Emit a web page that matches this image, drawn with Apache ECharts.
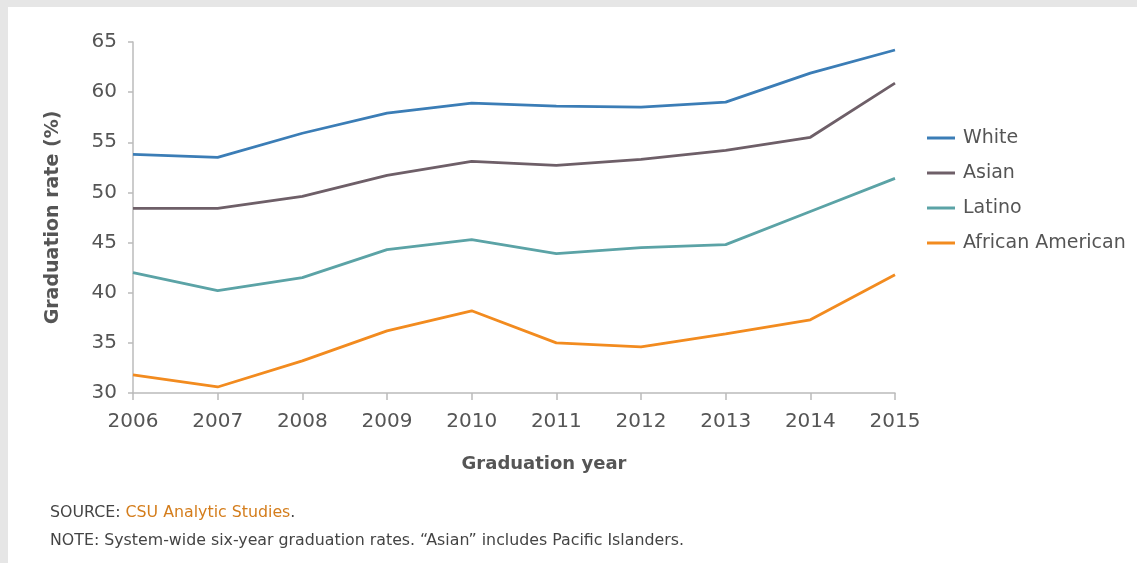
<html>
<head>
<meta charset="utf-8">
<title>Graduation rate by ethnicity</title>
<script src="https://cdn.jsdelivr.net/npm/echarts@6/dist/echarts.min.js"></script>
<style>
  body{margin:0;background:#e6e6e6;}
  #main{position:absolute;left:8px;top:7px;width:1129px;height:556px;background:#fff;}
</style>
</head>
<body>
<div id="main"></div>
<script>
// data
var years = ['2006','2007','2008','2009','2010','2011','2012','2013','2014','2015'];
var white = [53.8, 53.5, 55.9, 57.9, 58.9, 58.6, 58.5, 59.0, 61.9, 64.2];
var asian = [48.4, 48.4, 49.6, 51.7, 53.1, 52.7, 53.3, 54.2, 55.5, 60.9];
var latino = [42.0, 40.2, 41.5, 44.3, 45.3, 43.9, 44.5, 44.8, 48.1, 51.4];
var africanAmerican = [31.8, 30.6, 33.2, 36.2, 38.2, 35.0, 34.6, 35.9, 37.3, 41.8];

var font = '"DejaVu Sans", sans-serif';
var myChart = echarts.init(document.getElementById('main'));

function line(name, data, color){
  return {
    name: name, type: 'line', data: data, symbol: 'none',
    lineStyle: {color: color, width: 2.8}, itemStyle: {color: color}
  };
}

var option = {
  animation: false,
  textStyle: {fontFamily: font},
  grid: {left: 125, right: 242, top: 35, bottom: 170},
  legend: {
    orient: 'vertical', left: 914, top: 116, itemGap: 15,
    itemWidth: 28, itemHeight: 3, icon: 'rect',
    textStyle: {fontSize: 19, lineHeight: 20, color: '#555', fontFamily: font, padding: [0, 0, 0, 3]},
    data: ['White', 'Asian', 'Latino', 'African American']
  },
  xAxis: {
    type: 'category', data: years, boundaryGap: false,
    name: 'Graduation year', nameLocation: 'middle', nameGap: 62,
    nameTextStyle: {fontSize: 18, fontWeight: 'bold', color: '#555', padding: [0, 0, 0, 60]},
    axisLine: {lineStyle: {color: '#bbb', width: 1.5}},
    axisTick: {length: 7, lineStyle: {color: '#bbb', width: 1.5}},
    axisLabel: {fontSize: 20, color: '#555', margin: 19}
  },
  yAxis: {
    type: 'value', min: 30, max: 65, interval: 5,
    name: 'Graduation rate (%)', nameLocation: 'middle', nameGap: 70,
    nameTextStyle: {fontSize: 19, fontWeight: 'bold', color: '#555'},
    axisLine: {show: true, lineStyle: {color: '#bbb', width: 1.5}},
    axisTick: {show: true, length: 5, lineStyle: {color: '#bbb', width: 1.5}},
    axisLabel: {fontSize: 20, color: '#555', margin: 16},
    splitLine: {show: false}
  },
  title: {
    left: 37, top: 487,
    text: '{a|SOURCE: }{b|CSU Analytic Studies}{a|.}\n{a|NOTE: System-wide six-year graduation rates. \u201cAsian\u201d includes Pacific Islanders.}',
    textStyle: {
      rich: {
        a: {fontSize: 15.8, fontWeight: 'normal', color: '#444', fontFamily: font, lineHeight: 28},
        b: {fontSize: 15.8, fontWeight: 'normal', color: '#d47d1c', fontFamily: font, lineHeight: 28}
      }
    }
  },
  series: [
    line('White', white, '#3b7db6'),
    line('Asian', asian, '#6e5f68'),
    line('Latino', latino, '#5ba3a6'),
    line('African American', africanAmerican, '#f28b1f')
  ]
};
myChart.setOption(option);
</script>
</body>
</html>
